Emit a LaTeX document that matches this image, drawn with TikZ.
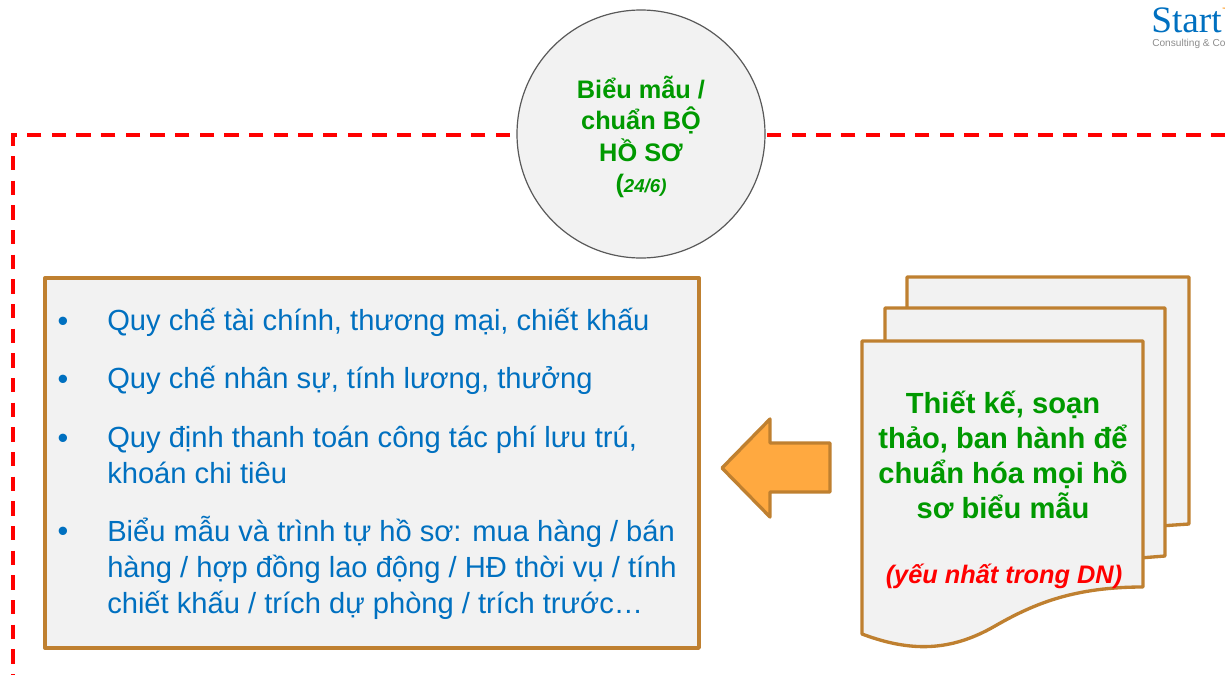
\documentclass[tikz,border=0pt]{standalone}
\usepackage{fontspec}
\setmainfont{Liberation Sans}
\newfontfamily\logofont{Liberation Serif}
\definecolor{bronze}{RGB}{191, 128, 48}
\definecolor{paper}{RGB}{242, 242, 242}
\definecolor{leaf}{RGB}{0, 153, 0}
\definecolor{ocean}{RGB}{0, 112, 192}
\definecolor{amber}{RGB}{255, 169, 64}
\definecolor{ring}{RGB}{89, 89, 89}
\definecolor{logogrey}{RGB}{140, 140, 140}
\tikzset{
    sheet/.style={draw=bronze, fill=paper, line width=2.5pt, line join=round},
    itemtext/.style={anchor=base west, inner sep=0pt, text=ocean, align=left, font=\fontsize{21.85}{27}\selectfont},
    bullet/.style={anchor=base, inner sep=0pt, text=ocean, font=\fontsize{23}{27}\selectfont},
}

\begin{document}
\begin{tikzpicture}[x=0.75pt, y=-0.75pt]
            \useasboundingbox (0,0) rectangle (1225,675);
            \clip (0,0) rectangle (1225,675);
            % dashed frame
            \draw[red, line width=2.5pt, dash pattern=on 10.72pt off 7.78pt] (1250,135) -- (13,135) -- (13,675);
            % title circle
            \node[circle, draw=ring, fill=paper, line width=0.9pt, minimum size=186pt, inner sep=0pt] (title) at (641,134) {};
            \node[align=center, inner sep=0pt, text=leaf, font=\fontsize{19}{23.5}\selectfont\bfseries] (titletext) at (641,137)
                  {Biểu mẫu /\\chuẩn BỘ\\HỒ SƠ\\({\fontsize{14}{23.5}\selectfont\itshape 24/6)}};
            % list box
            \draw[sheet] (45,278) rectangle (699,648);
            \node[bullet] (b1) at (63,331) {•};
            \node[bullet] (b2) at (63,389) {•};
            \node[bullet] (b3) at (63,448) {•};
            \node[bullet] (b4) at (63,541) {•};
            \node[itemtext] (i1) at (107,330) {Quy chế tài chính, thương mại, chiết khấu};
            \node[itemtext] (i2) at (107,388) {Quy chế nhân sự, tính lương, thưởng};
            \node[itemtext] (i3) at (107,483) {Quy định thanh toán công tác phí lưu trú,\\khoán chi tiêu};
            \node[itemtext] (i4) at (107,613) {Biểu mẫu và trình tự hồ sơ: mua hàng / bán\\hàng / hợp đồng lao động / HĐ thời vụ / tính\\chiết khấu / trích dự phòng / trích trước…};
            % arrow
            \draw[sheet, fill=amber] (722,468) -- (770,419) -- (770,443) -- (830,443) -- (830,492) -- (770,492) -- (770,517) -- cycle;
            % stacked documents
            \draw[sheet] (907,277) -- (1189,277) -- (1189,524) -- (1160,526) -- (907,526) -- cycle;
            \draw[sheet] (885,308) -- (1165,308) -- (1165,556) -- (1140,558) -- (885,558) -- cycle;
            \draw[sheet] (862,341) -- (1143,341) -- (1143,587) .. controls (1075,587) and (1035,603) .. (995,626)
                         .. controls (950,652) and (910,652) .. (862,634) -- cycle;
            \node[align=center, text=leaf, inner sep=0pt, font=\fontsize{21.85}{26.2}\selectfont\bfseries] (docmain) at (1003,455)
                  {Thiết kế, soạn\\thảo, ban hành để\\chuẩn hóa mọi hồ\\sơ biểu mẫu};
            \node[text=red, inner sep=0pt, font=\fontsize{19}{22}\selectfont\bfseries\itshape] (docnote) at (1004,576) {(yếu nhất trong DN)};
            % logo
            \node[anchor=base west, inner sep=0pt, text=ocean, font=\logofont\fontsize{28}{28}\selectfont] (logo) at (1151,32) {Start\textcolor{amber}{U}};
            \node[anchor=base west, inner sep=0pt, text=logogrey, font=\fontsize{7.6}{9}\selectfont] (logosub) at (1152,46) {Consulting \& Co};
        \end{tikzpicture}
\end{document}
